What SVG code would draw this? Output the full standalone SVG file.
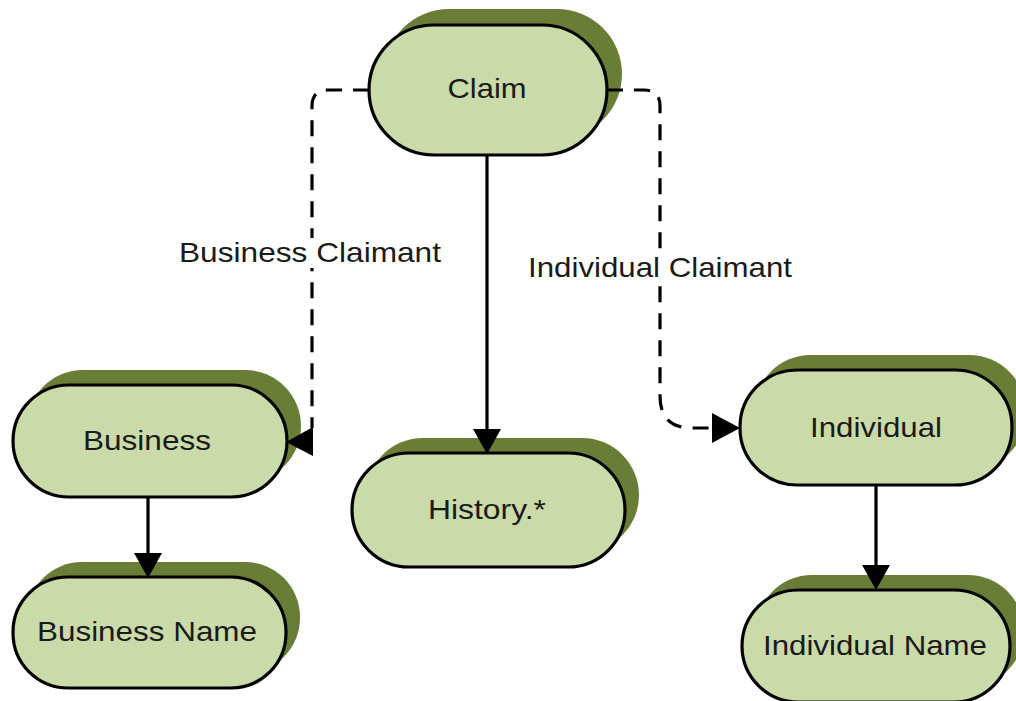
<svg xmlns="http://www.w3.org/2000/svg" width="1016" height="701" viewBox="0 0 1016 701">
  <style>
    .shadow { fill: #6a7d37; }
    .body { fill: #cadaa8; stroke: #000; stroke-width: 3.2; }
    .txt { font-family: "Liberation Sans", Arial, sans-serif; font-size: 28px; fill: #1a1a1a; text-anchor: middle; }
    .solid { fill: none; stroke: #000; stroke-width: 3.2; }
    .dash { fill: none; stroke: #000; stroke-width: 3.2; stroke-dasharray: 16 11; }
    .head { fill: #000; }
    .lbl-bg { fill: #fff; }
  </style>
  <rect width="1016" height="701" fill="#fff"/>

  <g id="claim">
    <rect class="shadow" x="384" y="9" width="238" height="130" rx="65"/>
    <rect class="body" x="369" y="25" width="238" height="130" rx="65"/>
    <text class="txt" x="487" y="98" textLength="79" lengthAdjust="spacingAndGlyphs">Claim</text>
  </g>

  <g id="business">
    <rect class="shadow" x="27" y="370" width="274" height="112" rx="56"/>
    <rect class="body" x="13" y="385" width="274" height="112" rx="56"/>
    <text class="txt" x="147" y="450" textLength="128" lengthAdjust="spacingAndGlyphs">Business</text>
  </g>

  <g id="business-name">
    <rect class="shadow" x="27" y="562" width="273" height="111" rx="55"/>
    <rect class="body" x="13" y="577" width="273" height="111" rx="55"/>
    <text class="txt" x="147" y="641" textLength="220" lengthAdjust="spacingAndGlyphs">Business Name</text>
  </g>

  <g id="history">
    <rect class="shadow" x="366" y="438" width="273" height="114" rx="57"/>
    <rect class="body" x="352" y="453" width="273" height="114" rx="57"/>
    <text class="txt" x="487" y="519" textLength="118" lengthAdjust="spacingAndGlyphs">History.*</text>
  </g>

  <g id="individual">
    <rect class="shadow" x="754" y="355" width="272" height="115" rx="57"/>
    <rect class="body" x="740" y="370" width="272" height="115" rx="57"/>
    <text class="txt" x="876" y="437" textLength="132" lengthAdjust="spacingAndGlyphs">Individual</text>
  </g>

  <g id="individual-name">
    <rect class="shadow" x="756" y="575" width="268" height="112" rx="56"/>
    <rect class="body" x="742" y="590" width="268" height="112" rx="56"/>
    <text class="txt" x="875" y="655" textLength="224" lengthAdjust="spacingAndGlyphs">Individual Name</text>
  </g>

  <!-- connectors, drawn over the node shadows -->
  <g id="connectors">
    <!-- Claim -> History.* -->
    <path class="solid" d="M487 155 V432"/>
    <polygon class="head" points="473,429 501,429 487,454"/>
    <!-- Business -> Business Name -->
    <path class="solid" d="M148 497 V556"/>
    <polygon class="head" points="134,553 162,553 148,578"/>
    <!-- Individual -> Individual Name -->
    <path class="solid" d="M876 485 V568"/>
    <polygon class="head" points="862,565 890,565 876,590"/>
    <!-- Claim -> Business (dashed) -->
    <path class="dash" d="M369 90 H328 Q312 90 312 106 V428"/>
    <polygon class="head" points="313,427 313,456 286,442"/>
    <!-- Claim -> Individual (dashed) -->
    <path class="dash" d="M607 90 H644 Q660 90 660 106 V396 Q660 428 692 428 H714"/>
    <polygon class="head" points="712,413 712,443 740,428"/>
    <!-- connector labels -->
    <rect class="lbl-bg" x="178" y="238" width="264" height="30"/>
    <text class="txt" x="310" y="262" textLength="262" lengthAdjust="spacingAndGlyphs">Business Claimant</text>
    <rect class="lbl-bg" x="526" y="253" width="268" height="30"/>
    <text class="txt" x="660" y="277" textLength="264" lengthAdjust="spacingAndGlyphs">Individual Claimant</text>
  </g>
</svg>
